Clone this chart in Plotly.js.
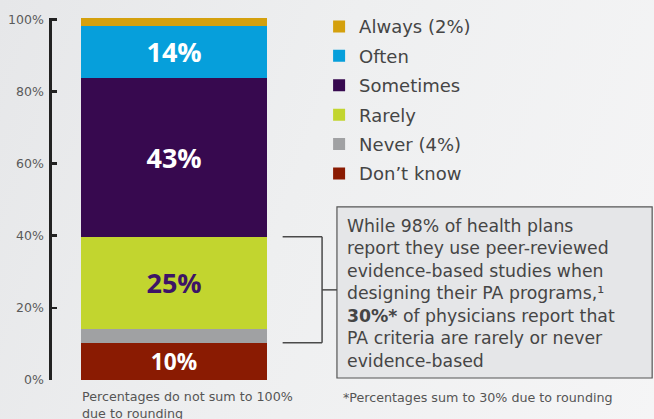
<!DOCTYPE html>
<html>
<head>
<meta charset="utf-8">
<script src="https://cdn.plot.ly/plotly-3.0.1.min.js"></script>
<style>
  html, body { margin: 0; padding: 0; }
  body { width: 654px; height: 419px; overflow: hidden;
         background: linear-gradient(110deg, #e6e7e9 0%, #eeeff0 45%, #f5f5f6 100%); }
  #chart { width: 654px; height: 419px; }
</style>
</head>
<body>
<div id="chart"></div>
<script>
// ---- data (bottom of stack first) ----
const categories = ["Don’t know", "Never (4%)", "Rarely", "Sometimes", "Often", "Always (2%)"];
const values = [10.3, 3.9, 25.5, 44.1, 14.5, 2.1];
const valueLabels = ["10%", "", "25%", "43%", "14%", ""];
const tickValues = [0, 20, 40, 60, 80, 100];
const tickLabels = ["0%", "20%", "40%", "60%", "80%", "100%"];
const calloutLines = [
  "While 98% of health plans",
  "report they use peer-reviewed",
  "evidence-based studies when",
  "designing their PA programs,¹",
  "<b>30%*</b> of physicians report that",
  "PA criteria are rarely or never",
  "evidence-based"
];
const footnoteLeft = "Percentages do not sum to 100%<br>due to rounding";
const footnoteRight = "*Percentages sum to 30% due to rounding";

// ---- styles ----
const colors = ["#8a1b02", "#a0a1a3", "#c2d52f", "#37094f", "#069fdb", "#d4a00d"];
const labelColors = ["#ffffff", "#ffffff", "#3d1466", "#ffffff", "#ffffff", "#ffffff"];
const FONT = "DejaVu Sans, sans-serif";

const yMax = 100.4;
const n = categories.length;
const traces = categories.map((name, i) => ({
  type: "bar",
  name: name,
  x: [0],
  y: [values[i]],
  width: 1,
  text: [valueLabels[i]],
  textposition: "inside",
  insidetextanchor: "middle",
  textangle: 0,
  textfont: { family: "Open Sans, sans-serif", size: 27, weight: 700, color: labelColors[i] },
  marker: { color: colors[i], line: { width: 0 } },
  legendgroup: name,
  legendrank: n - i,
  hoverinfo: "none"
}));

// bracket levels from the data
const bracketTop = values[0] + values[1] + values[2];
const bracketBottom = values[0];
const py = v => v / yMax;
const lineStyle = { color: "#4a4a4a", width: 1.5 };

const layout = {
  width: 654,
  height: 419,
  margin: { l: 52, r: 354, t: 18, b: 39, autoexpand: false },
  paper_bgcolor: "rgba(0,0,0,0)",
  plot_bgcolor: "rgba(0,0,0,0)",
  barmode: "stack",
  bargap: 0,
  showlegend: true,
  legend: {
    x: 1.077, y: 1.027, xanchor: "left", yanchor: "top",
    traceorder: "grouped",
    tracegroupgap: 3,
    font: { family: FONT, size: 18, color: "#454545" },
    bgcolor: "rgba(0,0,0,0)",
    borderwidth: 0
  },
  xaxis: {
    range: [-0.656, 0.677],
    showgrid: false, zeroline: false, showline: false,
    showticklabels: false, ticks: "", fixedrange: true
  },
  yaxis: {
    range: [0, yMax],
    tickvals: tickValues,
    ticktext: tickLabels,
    ticks: "inside",
    ticklen: 5,
    tickwidth: 2.7,
    tickcolor: "#222222",
    showline: true,
    linecolor: "#222222",
    linewidth: 2.7,
    showgrid: false,
    zeroline: false,
    ticklabelstandoff: 3,
    tickfont: { family: FONT, size: 12.5, color: "#5a5a5a" },
    fixedrange: true
  },
  shapes: [
    // callout box
    { type: "rect", xref: "paper", yref: "paper",
      x0: 1.149, x1: 2.42, y0: py(0.55), y1: py(48.0),
      fillcolor: "#e5e6e8", line: { color: "#555555", width: 1.2 }, layer: "below" },
    // bracket
    { type: "line", xref: "paper", yref: "paper", x0: 0.930, x1: 1.089, y0: py(bracketTop), y1: py(bracketTop), line: lineStyle },
    { type: "line", xref: "paper", yref: "paper", x0: 1.089, x1: 1.089, y0: py(bracketTop), y1: py(bracketBottom), line: lineStyle },
    { type: "line", xref: "paper", yref: "paper", x0: 0.930, x1: 1.089, y0: py(bracketBottom), y1: py(bracketBottom), line: lineStyle },
    { type: "line", xref: "paper", yref: "paper", x0: 1.089, x1: 1.149, y0: py((bracketTop + bracketBottom) / 2), y1: py((bracketTop + bracketBottom) / 2), line: lineStyle }
  ],
  annotations: [
    { xref: "paper", yref: "paper", x: 1.182, y: 0.240, xanchor: "left", yanchor: "middle",
      align: "left", showarrow: false, text: calloutLines.join("<br>"),
      font: { family: FONT, size: 17.3, color: "#454545" } },
    { xref: "paper", yref: "paper", x: 0.113, y: -0.0704, xanchor: "left", yanchor: "middle",
      align: "left", showarrow: false, text: footnoteLeft,
      font: { family: FONT, size: 12.7, color: "#555555" } },
    { xref: "paper", yref: "paper", x: 1.165, y: -0.047, xanchor: "left", yanchor: "middle",
      align: "left", showarrow: false, text: footnoteRight,
      font: { family: FONT, size: 12.7, color: "#555555" } }
  ]
};

Plotly.newPlot("chart", traces, layout, { displayModeBar: false, staticPlot: true });
</script>
</body>
</html>
